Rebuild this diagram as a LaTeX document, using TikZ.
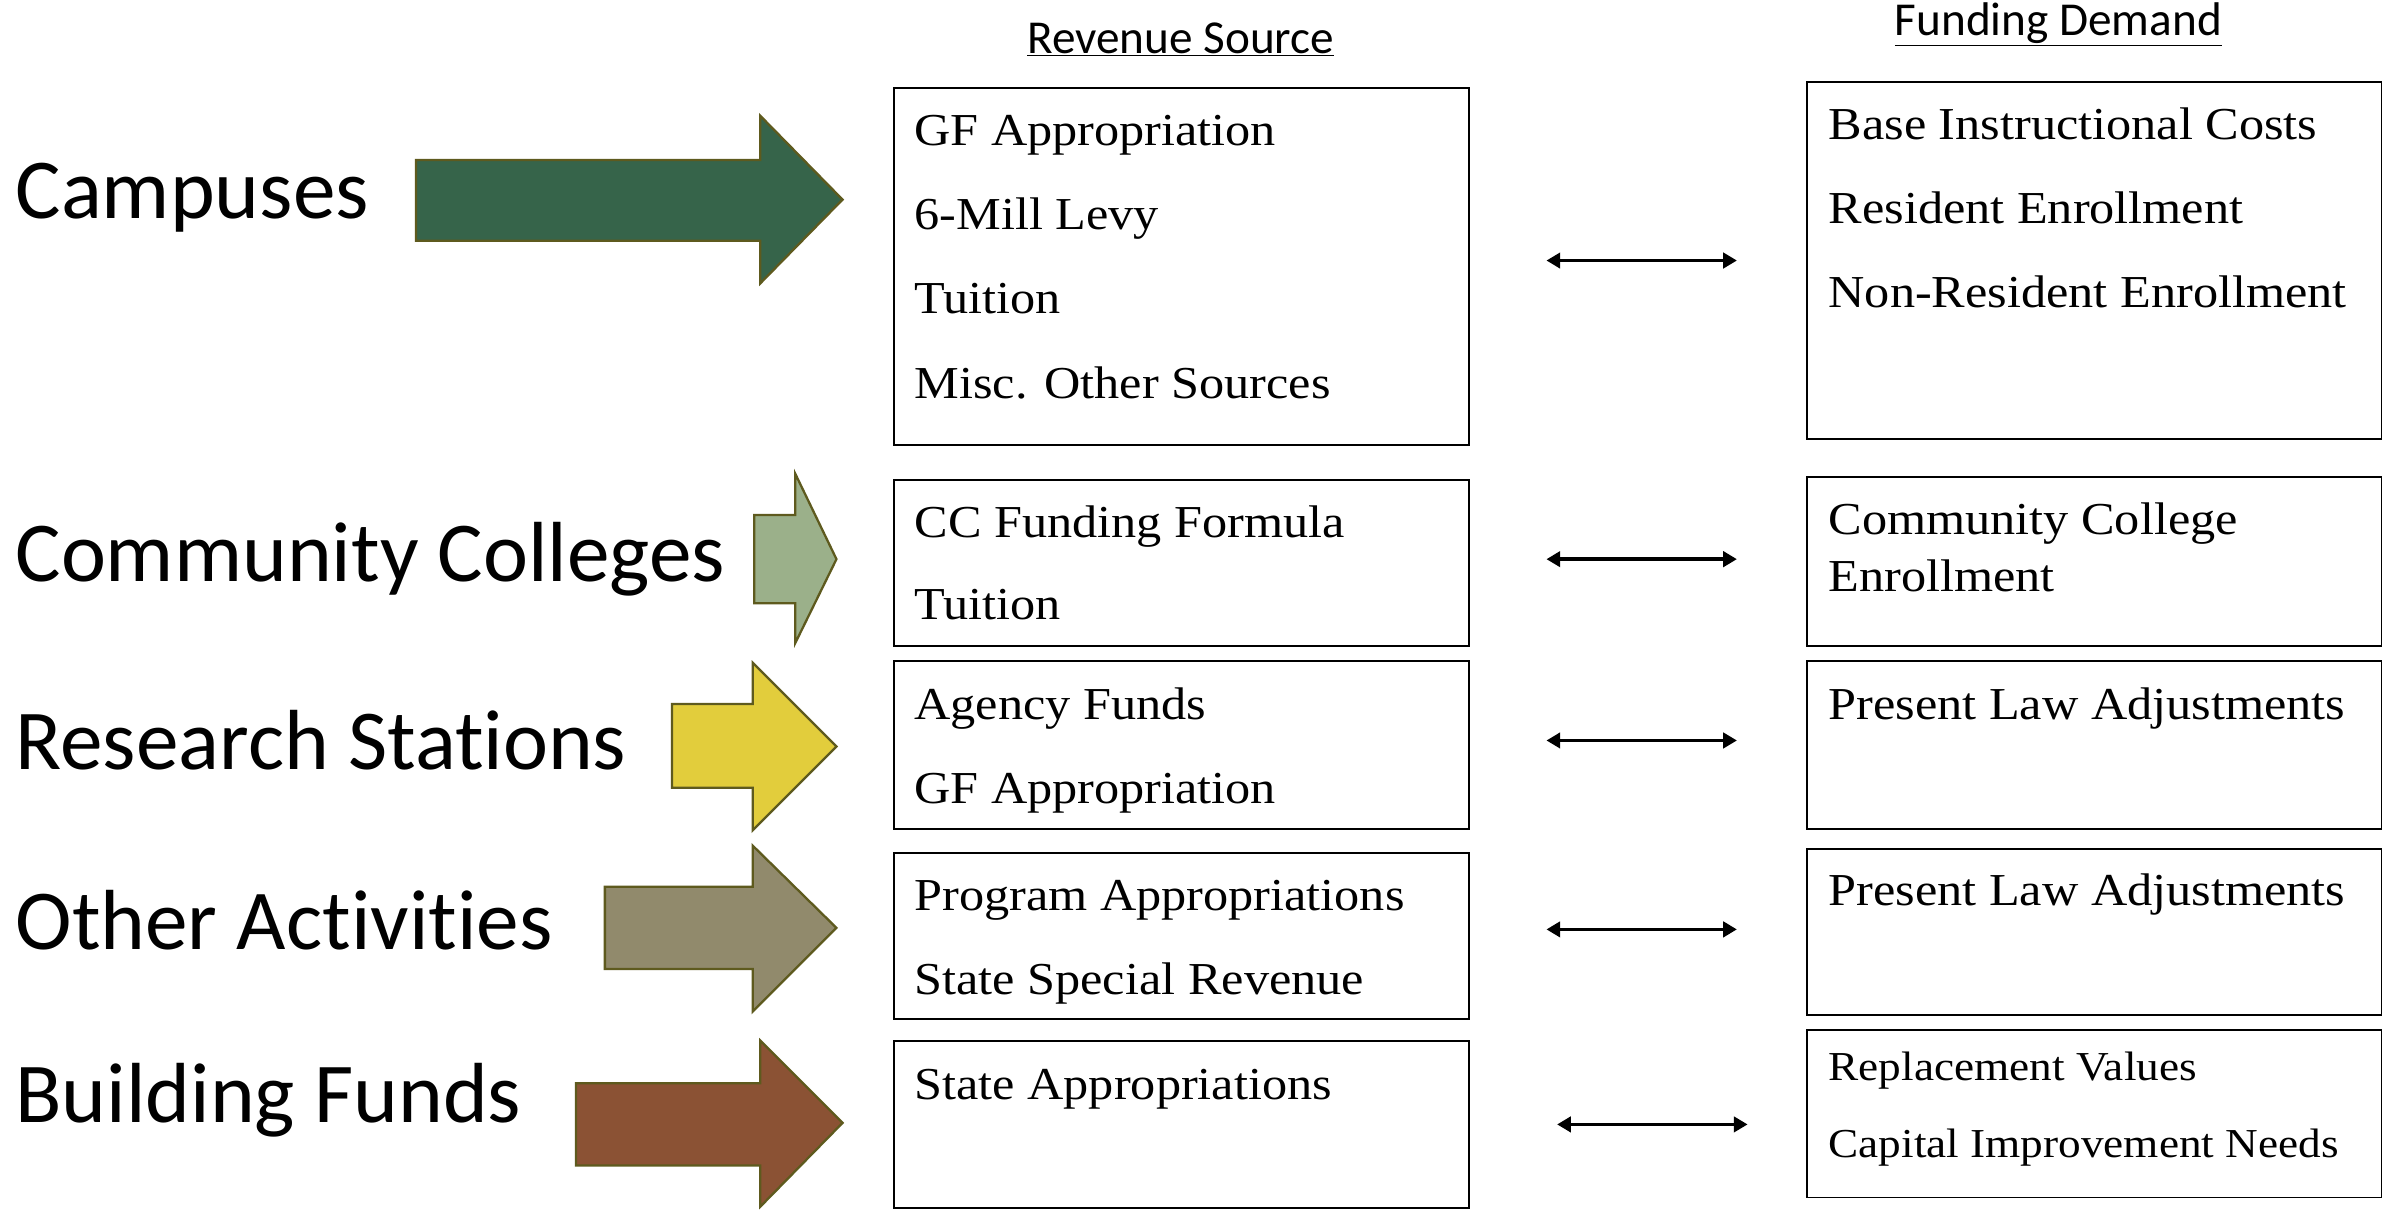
\documentclass[tikz,border=0pt]{standalone}
\usepackage{fontspec}
\setmainfont[FakeStretch=1.1]{Liberation Serif}
\newfontfamily\lblfont[Ligatures=NoCommon]{Carlito}
\usetikzlibrary{arrows.meta}
\definecolor{cgreen}{HTML}{36644A}
\definecolor{csage}{HTML}{9BB08A}
\definecolor{cyellow}{HTML}{E2CD3C}
\definecolor{ckhaki}{HTML}{918A6C}
\definecolor{cbrown}{HTML}{8B5234}
\definecolor{coutl}{HTML}{5E5A1E}
\begin{document}
\begin{tikzpicture}[x=1pt,y=-1pt,
  bx/.style={draw=black,line width=1.2pt,inner sep=0pt},
  txt/.style={anchor=west,inner sep=0pt,font=\fontsize{30}{30}\selectfont,text height=20pt,text depth=7pt},
  stxt/.style={anchor=west,inner sep=0pt,font=\fontsize{27}{27}\selectfont,text height=18pt,text depth=6pt},
  lbl/.style={anchor=west,inner sep=0pt,font=\lblfont\fontsize{56}{56}\selectfont},
  hdr/.style={inner sep=0pt,font=\lblfont\fontsize{31}{31}\selectfont},
  bigarrow/.style={draw=coutl,line width=1.5pt,line join=miter},
  dbl/.style={line width=2.4pt,{Triangle[length=9pt,width=10pt]}-{Triangle[length=9pt,width=10pt]}}]
\useasboundingbox (0,0) rectangle (1568,794);
% headers
\node[hdr] (h1) at (775,26) {\underline{Revenue Source}};
\node[hdr] (h2) at (1351,16) {\underline{Funding Demand}};
% labels
\node[lbl] (l1) at (10,130) {Campuses};
\node[lbl] (l2) at (10,367) {Community Colleges};
\node[lbl] (l3) at (10,486) {Research Stations};
\node[lbl] (l4) at (10,604) {Other Activities};
\node[lbl] (l5) at (10,722) {Building Funds};
% big arrows
\draw[bigarrow,fill=cgreen] (273,105) -- (499,105) -- (499,76) -- (553,131) -- (499,186) -- (499,158) -- (273,158) -- cycle;
\draw[bigarrow,fill=csage] (495,338) -- (522,338) -- (522,311) -- (549,367) -- (522,422) -- (522,396) -- (495,396) -- cycle;
\draw[bigarrow,fill=cyellow] (441,462) -- (494,462) -- (494,435) -- (549,490) -- (494,545) -- (494,517) -- (441,517) -- cycle;
\draw[bigarrow,fill=ckhaki] (397,582) -- (494,582) -- (494,555) -- (549,609) -- (494,664) -- (494,636) -- (397,636) -- cycle;
\draw[bigarrow,fill=cbrown] (378,711) -- (499,711) -- (499,683) -- (553,737) -- (499,792) -- (499,765) -- (378,765) -- cycle;
% revenue boxes
\draw[bx] (587,58) rectangle (964,292);
\draw[bx] (587,315) rectangle (964,424);
\draw[bx] (587,434) rectangle (964,544);
\draw[bx] (587,560) rectangle (964,669);
\draw[bx] (587,683) rectangle (964,793);
% funding boxes
\draw[bx] (1186,54) rectangle (1563,288);
\draw[bx] (1186,313) rectangle (1563,424);
\draw[bx] (1186,434) rectangle (1563,544);
\draw[bx] (1186,557) rectangle (1563,666);
\draw[bx] (1186,676) rectangle (1563,786);
% revenue texts
\node[txt] (r1a) at (600,89) {GF Appropriation};
\node[txt] (r1b) at (600,144) {6-Mill Levy};
\node[txt] (r1c) at (600,199) {Tuition};
\node[txt] (r1d) at (600,255) {Misc. Other Sources};
\node[txt] (r2a) at (600,346) {CC Funding Formula};
\node[txt] (r2b) at (600,400) {Tuition};
\node[txt] (r3a) at (600,466) {Agency Funds};
\node[txt] (r3b) at (600,521) {GF Appropriation};
\node[txt] (r4a) at (600,591) {Program Appropriations};
\node[txt] (r4b) at (600,646) {State Special Revenue};
\node[txt] (r5a) at (600,715) {State Appropriations};
% funding texts
\node[txt] (f1a) at (1200,85) {Base Instructional Costs};
\node[txt] (f1b) at (1200,140) {Resident Enrollment};
\node[txt] (f1c) at (1200,195) {Non-Resident Enrollment};
\node[txt] (f2a) at (1200,344) {Community College};
\node[txt] (f2b) at (1200,382) {Enrollment};
\node[txt] (f3a) at (1200,466) {Present Law Adjustments};
\node[txt] (f4a) at (1200,588) {Present Law Adjustments};
\node[stxt] (f5a) at (1200,703) {Replacement Values};
\node[stxt] (f5b) at (1200,754) {Capital Improvement Needs};
% double arrows
\coordinate (a1l) at (1015,171); \coordinate (a1r) at (1140,171);
\coordinate (a2l) at (1015,367); \coordinate (a2r) at (1140,367);
\coordinate (a3l) at (1015,486); \coordinate (a3r) at (1140,486);
\coordinate (a4l) at (1015,610); \coordinate (a4r) at (1140,610);
\coordinate (a5l) at (1022,738); \coordinate (a5r) at (1147,738);
\draw[dbl] (a1l) -- (a1r);
\draw[dbl] (a2l) -- (a2r);
\draw[dbl] (a3l) -- (a3r);
\draw[dbl] (a4l) -- (a4r);
\draw[dbl] (a5l) -- (a5r);
\end{tikzpicture}
\end{document}
